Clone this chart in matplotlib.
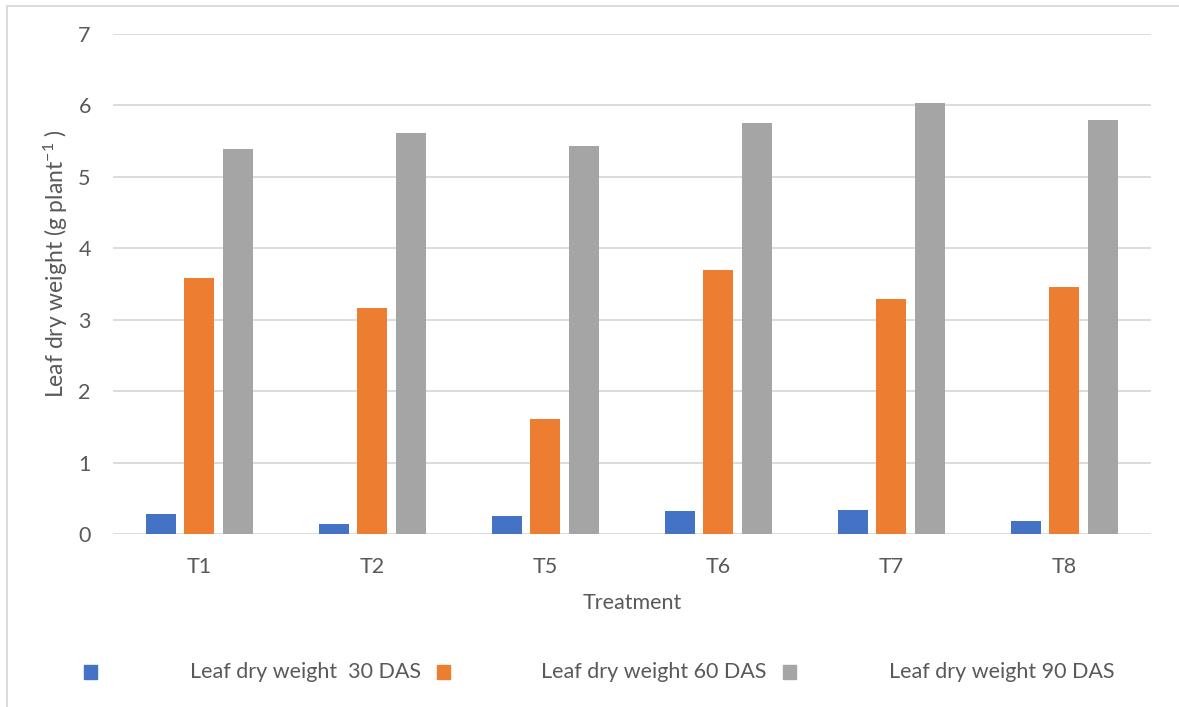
import matplotlib
matplotlib.use("Agg")
import matplotlib.pyplot as plt
from matplotlib.patches import Rectangle
from matplotlib.lines import Line2D
import numpy as np

plt.rcParams['font.family'] = ['Lato', 'DejaVu Sans']
plt.rcParams['mathtext.fontset'] = 'custom'
plt.rcParams['mathtext.rm'] = 'Lato'
plt.rcParams['mathtext.default'] = 'regular'

treatments = ["T1", "T2", "T5", "T6", "T7", "T8"]
dw_30 = [0.29, 0.14, 0.26, 0.32, 0.34, 0.18]
dw_60 = [3.58, 3.16, 1.61, 3.70, 3.29, 3.46]
dw_90 = [5.39, 5.61, 5.43, 5.76, 6.04, 5.79]
series_labels = ["Leaf dry weight  30 DAS", "Leaf dry weight 60 DAS", "Leaf dry weight 90 DAS"]
colors = ["#4472C4", "#ED7D31", "#A5A5A5"]
yticks = [0, 1, 2, 3, 4, 5, 6, 7]

TEXT = "#595959"
GRID = "#D9D9D9"

W, H = 1179, 707
fig = plt.figure(figsize=(W / 100, H / 100), dpi=100)
ax = fig.add_axes([113 / W, 1 - 534.3 / H, 1037.7 / W, 500.3 / H])

x = np.arange(len(treatments))
bw = 0.1735
step = 0.2215
for i, (vals, c) in enumerate(zip([dw_30, dw_60, dw_90], colors)):
    ax.bar(x + (i - 1) * step, vals, width=bw, color=c, zorder=3)

ax.set_xlim(-0.5, len(treatments) - 0.5)
ax.set_ylim(0, 7)
ax.set_yticks(yticks)
ax.set_xticks(x)
ax.set_xticklabels(treatments)
ax.grid(axis="y", color=GRID, linewidth=1.3, zorder=0)
ax.set_axisbelow(True)
for s in ax.spines.values():
    s.set_visible(False)
ax.tick_params(axis="both", length=0, labelsize=15.5, colors=TEXT)
ax.tick_params(axis="y", pad=16)
ax.tick_params(axis="x", pad=16)

ax.set_xlabel("Treatment", fontsize=15.5, color=TEXT, labelpad=12)
ax.set_ylabel(r"Leaf dry weight (g plant$^{-1}$ )", fontsize=16.5, color=TEXT)
ax.yaxis.set_label_coords(-0.041, 0.542)

# legend drawn in figure pixels
sq_x = [84, 437, 783]
txt_x = [190, 541, 889]
ly = 672
for sx, tx, c, lab in zip(sq_x, txt_x, colors, series_labels):
    fig.patches.append(Rectangle((sx / W, 1 - (ly + 7) / H), 13 / W, 14 / H,
                                 transform=fig.transFigure, color=c))
    fig.text(tx / W, 1 - ly / H, lab, fontsize=15.5, color=TEXT, va="center", ha="left")

# chart frame (top and left edges)
fig.add_artist(Line2D([7 / W, 1], [1 - 6 / H, 1 - 6 / H], color=GRID, linewidth=1.3,
                      transform=fig.transFigure))
fig.add_artist(Line2D([7 / W, 7 / W], [0, 1 - 6 / H], color=GRID, linewidth=1.3,
                      transform=fig.transFigure))

fig.savefig("out.png", dpi=100)
